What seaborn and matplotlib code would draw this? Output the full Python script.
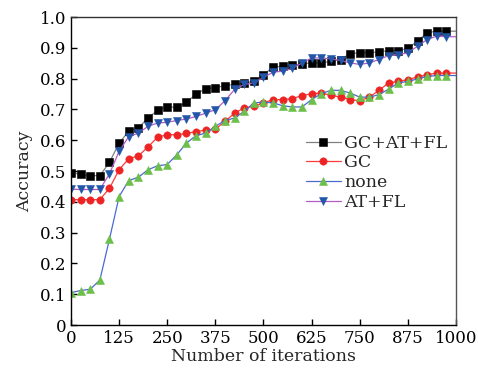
import numpy as np
import matplotlib
matplotlib.use("Agg")
import matplotlib.pyplot as plt
import seaborn as sns

# iteration steps (every 25 iterations)
iters = np.arange(0, 1001, 25)

# accuracy curves
acc_gc_at_fl = [0.495, 0.489, 0.485, 0.485, 0.528, 0.591, 0.629, 0.640, 0.672, 0.697,
                0.708, 0.707, 0.723, 0.750, 0.767, 0.771, 0.777, 0.781, 0.786, 0.791,
                0.813, 0.837, 0.840, 0.843, 0.848, 0.851, 0.851, 0.856, 0.862, 0.881,
                0.884, 0.884, 0.887, 0.891, 0.891, 0.898, 0.922, 0.949, 0.954, 0.954,
                0.954]
acc_gc = [0.407, 0.407, 0.407, 0.407, 0.444, 0.504, 0.540, 0.549, 0.578, 0.610,
          0.618, 0.618, 0.622, 0.628, 0.633, 0.636, 0.661, 0.688, 0.705, 0.710,
          0.721, 0.732, 0.732, 0.735, 0.745, 0.751, 0.753, 0.746, 0.740, 0.732,
          0.728, 0.740, 0.762, 0.786, 0.791, 0.797, 0.805, 0.813, 0.818, 0.818,
          0.818]
acc_none = [0.105, 0.112, 0.116, 0.146, 0.279, 0.417, 0.469, 0.480, 0.504, 0.517,
            0.521, 0.553, 0.591, 0.615, 0.623, 0.645, 0.664, 0.672, 0.694, 0.721,
            0.724, 0.721, 0.712, 0.708, 0.708, 0.732, 0.751, 0.762, 0.762, 0.753,
            0.740, 0.740, 0.748, 0.766, 0.786, 0.791, 0.799, 0.807, 0.810, 0.810,
            0.810]
acc_at_fl = [0.441, 0.440, 0.440, 0.440, 0.491, 0.564, 0.612, 0.623, 0.645, 0.656,
             0.658, 0.664, 0.669, 0.677, 0.688, 0.699, 0.728, 0.765, 0.781, 0.786,
             0.804, 0.821, 0.824, 0.833, 0.851, 0.867, 0.867, 0.864, 0.859, 0.851,
             0.846, 0.851, 0.862, 0.875, 0.878, 0.884, 0.905, 0.927, 0.938, 0.936,
             0.936]

labels = ["GC+AT+FL", "GC", "none", "AT+FL"]
xticks = [0, 125, 250, 375, 500, 625, 750, 875, 1000]
yticks = [0, 0.1, 0.2, 0.3, 0.4, 0.5, 0.6, 0.7, 0.8, 0.9, 1.0]

sns.set_style("ticks")
plt.rcParams['font.family'] = ['DejaVu Serif']

fig = plt.figure(figsize=(4.78, 3.74), dpi=100)
ax = fig.add_axes([0.1485, 0.131, 0.8055, 0.8235])

series = [
    (acc_gc_at_fl, labels[0], "s", "black", "#808080"),
    (acc_gc, labels[1], "o", "#ee2424", "#ff3a3a"),
    (acc_none, labels[2], "^", "#6cbf4a", "#4a6ad0"),
    (acc_at_fl, labels[3], "v", "#2156a8", "#b45cc4"),
]
for vals, lab, mk, mcol, lcol in series:
    sns.lineplot(x=iters, y=vals, ax=ax, label=lab, color=lcol, lw=0.9,
                 marker=mk, markersize=5.3, markerfacecolor=mcol,
                 markeredgecolor=mcol, markeredgewidth=0.4,
                 markevery=slice(0, 40))

ax.set_xlim(0, 1000)
ax.set_ylim(0, 1.0)
ax.set_xticks(xticks)
ax.set_yticks(yticks)
ax.set_yticklabels(["0", "0.1", "0.2", "0.3", "0.4", "0.5", "0.6", "0.7", "0.8", "0.9", "1.0"])
ax.tick_params(direction="in", length=4, width=1, labelsize=12, colors="black")
ax.set_xlabel("Number of iterations", fontsize=12.5, labelpad=1)
ax.set_ylabel("Accuracy", fontsize=12.5, labelpad=5)
for sp in ax.spines.values():
    sp.set_linewidth(1)
    sp.set_color("black")
ax.spines["right"].set_color("#555555")
ax.spines["top"].set_color("#333333")

ax.legend(loc="upper left", bbox_to_anchor=(0.61, 0.618), frameon=False,
          fontsize=12.5, handlelength=2.0, handletextpad=0.2,
          labelspacing=0.16, borderpad=0, borderaxespad=0, numpoints=1)

fig.savefig("out.png", dpi=100)
